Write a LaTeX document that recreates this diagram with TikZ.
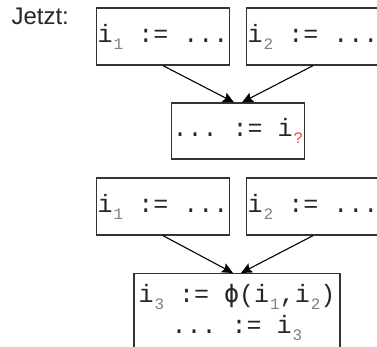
\documentclass[tikz,border=0pt]{standalone}
\usepackage{fontspec}
\setmainfont{Liberation Sans}
\setmonofont{Liberation Mono}
\newfontfamily\phifont{DejaVu Sans Mono}
\usepackage{tikz}
\usetikzlibrary{arrows.meta}
\definecolor{boxline}{HTML}{333333}
\definecolor{subgray}{HTML}{808080}
\definecolor{unknown}{HTML}{E8463C}
\newcommand\idx[2][subgray]{\kern1pt\raisebox{-.28em}{\fontsize{16}{16}\selectfont\textcolor{#1}{#2}}}
\tikzset{
  ssa box/.style={draw=boxline,line width=1.3pt,minimum width=132pt,minimum height=57pt,
    inner sep=1pt,font=\fontsize{25}{31}\selectfont\ttfamily,text=black!85},
  ssa join/.style={ssa box,minimum width=206pt,minimum height=78pt,align=center},
  ssa arrow/.style={black,line width=1.1pt,-{Stealth[length=11pt,width=10pt,inset=2pt]}}
}

\begin{document}
\begin{tikzpicture}[x=1pt,y=-1pt]
  \useasboundingbox (0,0) rectangle (377,347);
  \clip (0,0) rectangle (377,347);
  \node[anchor=base west,font=\fontsize{24}{24}\selectfont,text=black!85] (jetzt) at (8,25) {Jetzt:};
  % two definitions per row
  \foreach \row/\y in {top/36.5,bot/206.5}{
    \node[ssa box] (\row a) at (163,\y) {i\idx{1} := ...};
    \node[ssa box] (\row b) at (313,\y) {i\idx{2} := ...};
  }
  \node[ssa box,minimum height=56pt] (use) at (238,131) {... := i\idx[unknown]{?}};
  \node[ssa join,anchor=north] (join) at (237,273)
    {i\idx{3} := {\phifont ϕ}(i\idx{1},i\idx{2})\\... := i\idx{3}};
  \foreach \row/\dst in {top/use,bot/join}{
    \draw[ssa arrow] (\row a.south) -- ([xshift=-4pt]\dst.north);
    \draw[ssa arrow] (\row b.south) -- ([xshift=4pt]\dst.north);
  }
\end{tikzpicture}
\end{document}
